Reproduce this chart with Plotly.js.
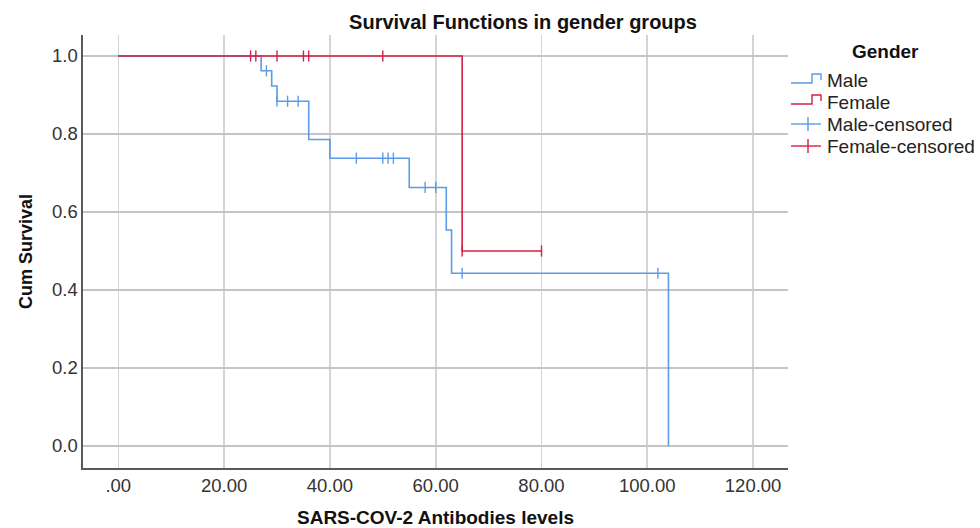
<!DOCTYPE html>
<html><head><meta charset="utf-8">
<script src="https://cdn.plot.ly/plotly-3.0.1.min.js"></script>
<style>body{margin:0;background:#fff}</style>
</head><body><div id="chart" style="width:980px;height:528px"></div>
<script>
// ---- data ----
const maleTime = [0, 27, 29, 30, 36, 40, 55, 62, 63, 104];
const maleSurv = [1.0, 0.962, 0.923, 0.884, 0.786, 0.738, 0.663, 0.554, 0.443, 0.0];
const maleCensTime = [28, 30, 32, 34, 45, 50, 51, 52, 58, 60, 65, 102];
const maleCensSurv = [0.962, 0.884, 0.884, 0.884, 0.738, 0.738, 0.738, 0.738, 0.663, 0.663, 0.443, 0.443];
const femaleTime = [0, 65, 80];
const femaleSurv = [1.0, 0.5, 0.5];
const femaleCensTime = [25, 26, 30, 35, 36, 50, 65, 80];
const femaleCensSurv = [1.0, 1.0, 1.0, 1.0, 1.0, 1.0, 0.5, 0.5];
const xTickVals = [0, 20, 40, 60, 80, 100, 120];
const xTickText = ['.00', '20.00', '40.00', '60.00', '80.00', '100.00', '120.00'];
const yTickVals = [0, 0.2, 0.4, 0.6, 0.8, 1.0];
const yTickText = ['0.0', '0.2', '0.4', '0.6', '0.8', '1.0'];
const seriesNames = ['Male', 'Female', 'Male-censored', 'Female-censored'];

// ---- styling ----
const BLUE = '#5B9BE8', RED = '#D81E48';
const W = 980, H = 528;
const M = {l: 83, r: W - 788, t: 35, b: H - 468};
const FONT = 'Arial, "Liberation Sans", sans-serif';
const px = x => (x - M.l) / (W - M.l - M.r);
const py = y => (H - M.b - y) / (H - M.t - M.b);

const traces = [
  {x: maleTime, y: maleSurv, mode: 'lines', line: {shape: 'hv', color: BLUE, width: 1.6}, name: seriesNames[0], showlegend: false, hoverinfo: 'x+y'},
  {x: femaleTime, y: femaleSurv, mode: 'lines', line: {shape: 'hv', color: RED, width: 1.6}, name: seriesNames[1], showlegend: false, hoverinfo: 'x+y'},
  {x: maleCensTime, y: maleCensSurv, mode: 'markers', marker: {symbol: 'line-ns', size: 8, line: {color: BLUE, width: 1.4}}, name: seriesNames[2], showlegend: false},
  {x: femaleCensTime, y: femaleCensSurv, mode: 'markers', marker: {symbol: 'line-ns', size: 8, line: {color: RED, width: 1.4}}, name: seriesNames[3], showlegend: false}
];

// custom legend (SPSS-style icons)
const shapes = [];
const annotations = [];
const legRows = [81, 102, 124, 146];
const legColors = [BLUE, RED, BLUE, RED];
legRows.forEach((yy, i) => {
  const c = legColors[i];
  if (i < 2) {
    const path = `M ${px(791)} ${py(yy + 2)} L ${px(812)} ${py(yy + 2)} L ${px(812)} ${py(yy - 7)} L ${px(821)} ${py(yy - 7)} L ${px(821)} ${py(yy - 1)}`;
    shapes.push({type: 'path', xref: 'paper', yref: 'paper', path: path, line: {color: c, width: 1.4}});
  } else {
    shapes.push({type: 'line', xref: 'paper', yref: 'paper', x0: px(791), x1: px(821), y0: py(yy), y1: py(yy), line: {color: c, width: 1.4}});
    shapes.push({type: 'line', xref: 'paper', yref: 'paper', x0: px(808), x1: px(808), y0: py(yy - 7), y1: py(yy + 7), line: {color: c, width: 1.4}});
  }
  annotations.push({xref: 'paper', yref: 'paper', x: px(825), y: py(yy), xanchor: 'left', yanchor: 'middle', showarrow: false,
    text: seriesNames[i], font: {family: FONT, size: 19, color: '#222'}});
});
annotations.push({xref: 'paper', yref: 'paper', x: px(885), y: py(51), xanchor: 'center', yanchor: 'middle', showarrow: false,
  text: '<b>Gender</b>', font: {family: FONT, size: 19, color: '#111'}});

const layout = {
  width: W, height: H,
  margin: M,
  paper_bgcolor: '#fff', plot_bgcolor: '#fff',
  showlegend: false,
  title: {text: '<b>Survival Functions in gender groups</b>', x: 523 / W, xanchor: 'center', y: 1 - 22 / H, yanchor: 'middle',
    font: {family: '"Liberation Sans Narrow", "Arial Narrow", Arial, sans-serif', size: 20, color: '#111'}},
  xaxis: {
    range: [(M.l - 118.3) / 5.29, (788 - 118.3) / 5.29],
    tickvals: xTickVals, ticktext: xTickText, ticks: '',
    showgrid: true, gridcolor: '#d4d4d4', gridwidth: 1.6,
    showline: true, linecolor: '#5a5a5a', linewidth: 1.6, zeroline: false,
    tickfont: {family: FONT, size: 18.5, color: '#333'},
    title: {text: '<b>SARS-COV-2 Antibodies levels</b>', font: {family: FONT, size: 19, color: '#111'}, standoff: 17},
    fixedrange: true
  },
  yaxis: {
    range: [(446 - 468) / 390, (446 - 35) / 390],
    tickvals: yTickVals, ticktext: yTickText, ticks: '',
    showgrid: true, gridcolor: '#c4c4c4', gridwidth: 1.2,
    showline: true, linecolor: '#5a5a5a', linewidth: 1.6, zeroline: false,
    tickfont: {family: FONT, size: 18.5, color: '#333'},
    title: {text: '<b>Cum Survival</b>', font: {family: FONT, size: 18, color: '#111'}, standoff: 14},
    fixedrange: true
  },
  shapes: shapes,
  annotations: annotations
};

Plotly.newPlot('chart', traces, layout, {displayModeBar: false, staticPlot: true});
</script>
</body></html>
